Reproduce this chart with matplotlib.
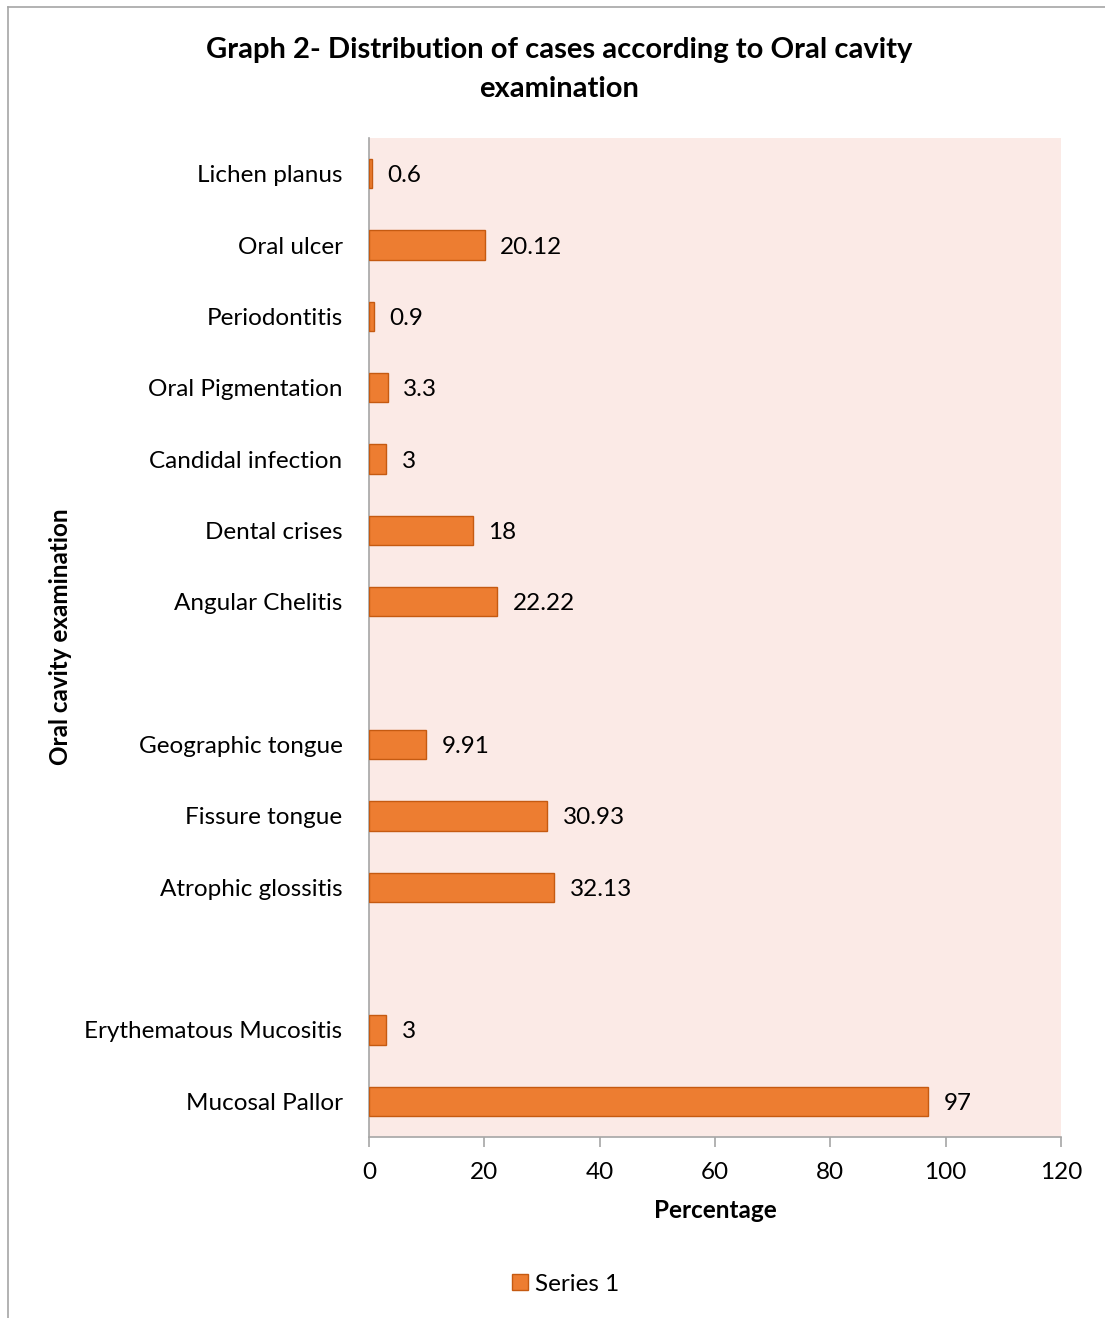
import matplotlib
matplotlib.use("Agg")
import matplotlib.pyplot as plt
import numpy as np
from matplotlib.lines import Line2D

categories = ["Lichen planus", "Oral ulcer", "Periodontitis", "Oral Pigmentation",
              "Candidal infection", "Dental crises", "Angular Chelitis", "",
              "Geographic tongue", "Fissure tongue", "Atrophic glossitis", "",
              "Erythematous Mucositis", "Mucosal Pallor"]
values = [0.6, 20.12, 0.9, 3.3, 3, 18, 22.22, np.nan, 9.91, 30.93, 32.13, np.nan, 3, 97]
value_labels = ["0.6", "20.12", "0.9", "3.3", "3", "18", "22.22", "",
                "9.91", "30.93", "32.13", "", "3", "97"]
xticks = [0, 20, 40, 60, 80, 100, 120]

plt.rcParams['font.family'] = ['Lato', 'DejaVu Sans']

W, H = 1105, 1318
fig = plt.figure(figsize=(W / 100, H / 100), dpi=100)
ax = fig.add_axes([369 / W, 1 - 1137 / H, (1061 - 369) / W, (1137 - 138) / H])
ax.set_facecolor("#FBEAE6")

n = len(categories)
ypos = np.arange(n)
ax.barh(ypos, values, height=0.41, color="#ED7D31", edgecolor="#C55A11",
        linewidth=1.0, label="Series 1", zorder=3)
for y, v, lab in zip(ypos, values, value_labels):
    if lab:
        ax.annotate(lab, (v, y), xytext=(11, 0), textcoords="offset points",
                    ha="left", va="center_baseline", fontsize=17.5, color="#000000")

ax.set_ylim(n - 0.5, -0.5)
ax.set_xlim(0, 120)
ax.set_yticks(ypos)
ax.set_yticklabels(categories, fontsize=17.5, va="center_baseline")
ax.tick_params(axis="y", length=0, pad=19)
ax.set_xticks(xticks)
ax.set_xticklabels([str(t) for t in xticks], fontsize=17.5)
ax.tick_params(axis="x", length=7, width=1.2, color="#A6A6A6", pad=11, direction="out")
for s in ["top", "right"]:
    ax.spines[s].set_visible(False)
for s in ["left", "bottom"]:
    ax.spines[s].set_color("#A6A6A6")
    ax.spines[s].set_linewidth(1.2)

fig.text(715 / W, 1 - 1211 / H, "Percentage", ha="center", va="center",
         fontsize=17.5, fontweight="bold")
fig.text(60 / W, 1 - 637 / H, "Oral cavity examination", ha="center", va="center",
         rotation=90, fontsize=17.5, fontweight="bold")
fig.text(559 / W, 1 - 50 / H, "Graph 2- Distribution of cases according to Oral cavity",
         ha="center", va="center", fontsize=21, fontweight="bold")
fig.text(559 / W, 1 - 89 / H, "examination", ha="center", va="center",
         fontsize=21, fontweight="bold")

handle = Line2D([], [], marker="s", linestyle="none", markersize=11,
                markerfacecolor="#ED7D31", markeredgecolor="#C55A11")
fig.legend([handle], ["Series 1"], loc="center", bbox_to_anchor=(565 / W, 1 - 1284 / H),
           frameon=False, fontsize=17.5, handletextpad=0.2, handlelength=0.8)

# chart border (left and top visible)
fig.add_artist(Line2D([8 / W, 8 / W], [0, 1 - 7 / H], transform=fig.transFigure,
                      color="#A6A6A6", linewidth=1.2))
fig.add_artist(Line2D([8 / W, 1], [1 - 7 / H, 1 - 7 / H], transform=fig.transFigure,
                      color="#A6A6A6", linewidth=1.2))

fig.savefig("out.png", dpi=100, facecolor="white")
